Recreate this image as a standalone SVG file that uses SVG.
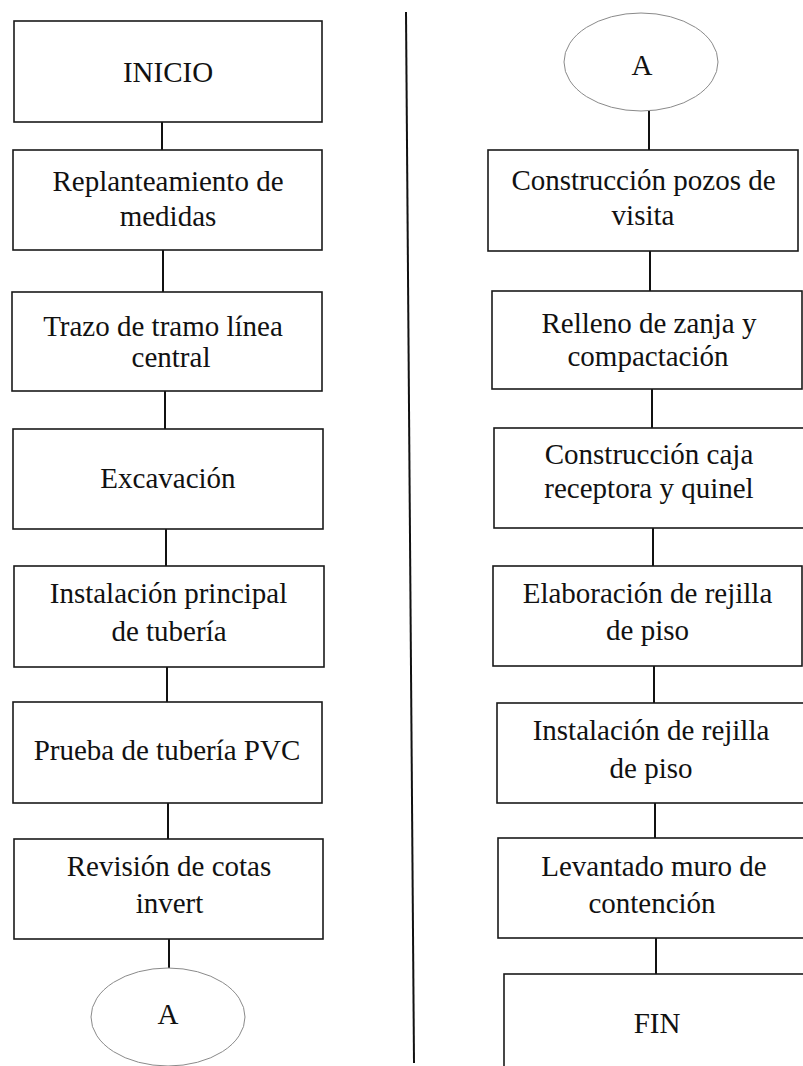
<svg xmlns="http://www.w3.org/2000/svg" width="803" height="1066" viewBox="0 0 803 1066">
<style>
.box{fill:#fff;stroke:#1a1a1a;stroke-width:1.6}
.ell{fill:#fff;stroke:#8a8a8a;stroke-width:1}
.con{stroke:#111;stroke-width:2;fill:none}
text{font-family:"Liberation Serif","Times New Roman",serif;font-size:29px;fill:#111;text-anchor:middle}
</style>
<rect width="803" height="1066" fill="#fff"/>
<g id="connectors">
<line class="con" x1="162" y1="122" x2="162" y2="150"/>
<line class="con" x1="163" y1="250" x2="163" y2="292"/>
<line class="con" x1="165" y1="391" x2="165" y2="429"/>
<line class="con" x1="166" y1="529" x2="166" y2="566"/>
<line class="con" x1="167" y1="667" x2="167" y2="702"/>
<line class="con" x1="168" y1="803" x2="168" y2="839"/>
<line class="con" x1="169" y1="939" x2="169" y2="968"/>
<line class="con" x1="649" y1="111" x2="649" y2="150"/>
<line class="con" x1="650" y1="251" x2="650" y2="291"/>
<line class="con" x1="652" y1="389" x2="652" y2="428"/>
<line class="con" x1="653" y1="528" x2="653" y2="566"/>
<line class="con" x1="654" y1="666" x2="654" y2="703"/>
<line class="con" x1="655" y1="803" x2="655" y2="838"/>
<line class="con" x1="656" y1="938" x2="656" y2="974"/>
<line class="con" x1="406" y1="12" x2="414" y2="1063"/>
</g>
<g id="inicio"><rect class="box" x="14" y="21" width="308" height="101"/><text x="168" y="82">INICIO</text></g>
<g id="replanteamiento"><rect class="box" x="13" y="150" width="309" height="100"/><text x="168" y="191">Replanteamiento de</text><text x="168" y="226">medidas</text></g>
<g id="trazo"><rect class="box" x="12" y="292" width="310" height="99"/><text x="163" y="336">Trazo de tramo línea</text><text x="171" y="367">central</text></g>
<g id="excavacion"><rect class="box" x="13" y="429" width="310" height="100"/><text x="168" y="488">Excavación</text></g>
<g id="instalacion-principal"><rect class="box" x="14" y="566" width="310" height="101"/><text x="168.5" y="603">Instalación principal</text><text x="169" y="641">de tubería</text></g>
<g id="prueba"><rect class="box" x="13" y="702" width="309" height="101"/><text x="167" y="760">Prueba de tubería PVC</text></g>
<g id="revision"><rect class="box" x="14" y="839" width="309" height="100"/><text x="169" y="876">Revisión de cotas</text><text x="169.5" y="913">invert</text></g>
<g id="conector-a-salida"><ellipse class="ell" cx="168" cy="1017" rx="77" ry="49"/><text x="168" y="1024">A</text></g>
<g id="conector-a-entrada"><ellipse class="ell" cx="641" cy="62" rx="77" ry="49"/><text x="642" y="75">A</text></g>
<g id="pozos"><rect class="box" x="488" y="150" width="310" height="101"/><text x="643.5" y="190">Construcción pozos de</text><text x="643" y="225">visita</text></g>
<g id="relleno"><rect class="box" x="492" y="291" width="310" height="98"/><text x="649" y="333">Relleno de zanja y</text><text x="648" y="366">compactación</text></g>
<g id="caja"><rect class="box" x="494" y="428" width="320" height="100"/><text x="649" y="464">Construcción caja</text><text x="649" y="498">receptora y quinel</text></g>
<g id="elaboracion"><rect class="box" x="493" y="566" width="309" height="100"/><text x="647.5" y="603">Elaboración de rejilla</text><text x="647.5" y="640">de piso</text></g>
<g id="instalacion-rejilla"><rect class="box" x="497" y="703" width="320" height="100"/><text x="651" y="740">Instalación de rejilla</text><text x="651" y="778">de piso</text></g>
<g id="levantado"><rect class="box" x="498" y="838" width="320" height="100"/><text x="654" y="876">Levantado muro de</text><text x="652" y="913">contención</text></g>
<g id="fin"><rect class="box" x="504" y="974" width="320" height="110"/><text x="657" y="1033">FIN</text></g>
</svg>
